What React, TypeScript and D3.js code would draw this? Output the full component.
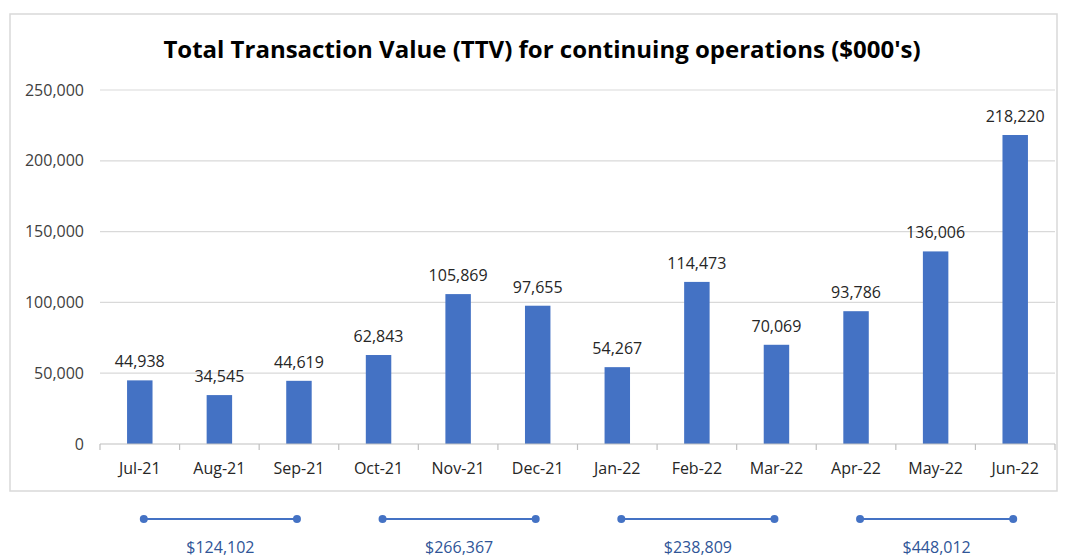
import React from "react";
import * as d3 from "d3";

const months = ["Jul-21","Aug-21","Sep-21","Oct-21","Nov-21","Dec-21","Jan-22","Feb-22","Mar-22","Apr-22","May-22","Jun-22"];
const ttv = [44938,34545,44619,62843,105869,97655,54267,114473,70069,93786,136006,218220];
const yTicks = [0,50000,100000,150000,200000,250000];
const quarterLabels = ["$124,102","$266,367","$238,809","$448,012"];
const quarterStart = [0,3,6,9];

const W = 1066, H = 558;
const FONT = "'Open Sans', sans-serif";
const BLUE = "#4472C4";

export default function App() {
  const x = d3.scaleBand<string>().domain(months).range([100, 1055]).padding(0);
  const y = d3.scaleLinear().domain([0, 250000]).range([444, 90]);
  const step = x.step();
  const bw = step * 0.32;
  const fmt = d3.format(",");
  const qY = 519;
  return (
    <svg width={W} height={H} style={{ position: "absolute", left: 0, top: 0, background: "#fff" }} fontFamily={FONT}>
      <rect x={10} y={14} width={1047} height={477} fill="#fff" stroke="#d9d9d9" strokeWidth={1.5} />
      <text x={542} y={58} textAnchor="middle" fontSize={24} fontWeight="bold" fill="#000">
        Total Transaction Value (TTV) for continuing operations ($000's)
      </text>
      {yTicks.map((t) => (
        <g key={t}>
          {t > 0 && <line x1={100} x2={1055} y1={y(t)} y2={y(t)} stroke="#d9d9d9" strokeWidth={1.2} />}
          <text x={84} y={y(t) + 5.5} textAnchor="end" fontSize={16} fill="#404040">{fmt(t)}</text>
        </g>
      ))}
      {months.map((m, i) => {
        const cx = (x(m) as number) + step / 2;
        return (
          <g key={m}>
            <rect x={cx - bw / 2} y={y(ttv[i])} width={bw} height={y(0) - y(ttv[i])} fill={BLUE} />
            <text x={cx} y={y(ttv[i]) - 13} textAnchor="middle" fontSize={16} fill="#262626">{fmt(ttv[i])}</text>
            <text x={cx} y={474} textAnchor="middle" fontSize={16} fill="#262626">{m}</text>
          </g>
        );
      })}
      <line x1={100} x2={1055} y1={444} y2={444} stroke="#bfbfbf" strokeWidth={1.2} />
      {d3.range(months.length + 1).map((i) => {
        const tx = 100 + i * step;
        return <line key={i} x1={tx} x2={tx} y1={444} y2={450} stroke="#bfbfbf" strokeWidth={1.2} />;
      })}
      {quarterStart.map((s, qi) => {
        const x1 = (x(months[s]) as number) + step / 2 + 4;
        const x2 = (x(months[s + 2]) as number) + step / 2 - 2;
        return (
          <g key={qi}>
            <line x1={x1} x2={x2} y1={qY} y2={qY} stroke={BLUE} strokeWidth={2} />
            <circle cx={x1} cy={qY} r={4} fill={BLUE} />
            <circle cx={x2} cy={qY} r={4} fill={BLUE} />
            <text x={(x1 + x2) / 2} y={553} textAnchor="middle" fontSize={16} fill="#2F5597">{quarterLabels[qi]}</text>
          </g>
        );
      })}
    </svg>
  );
}
